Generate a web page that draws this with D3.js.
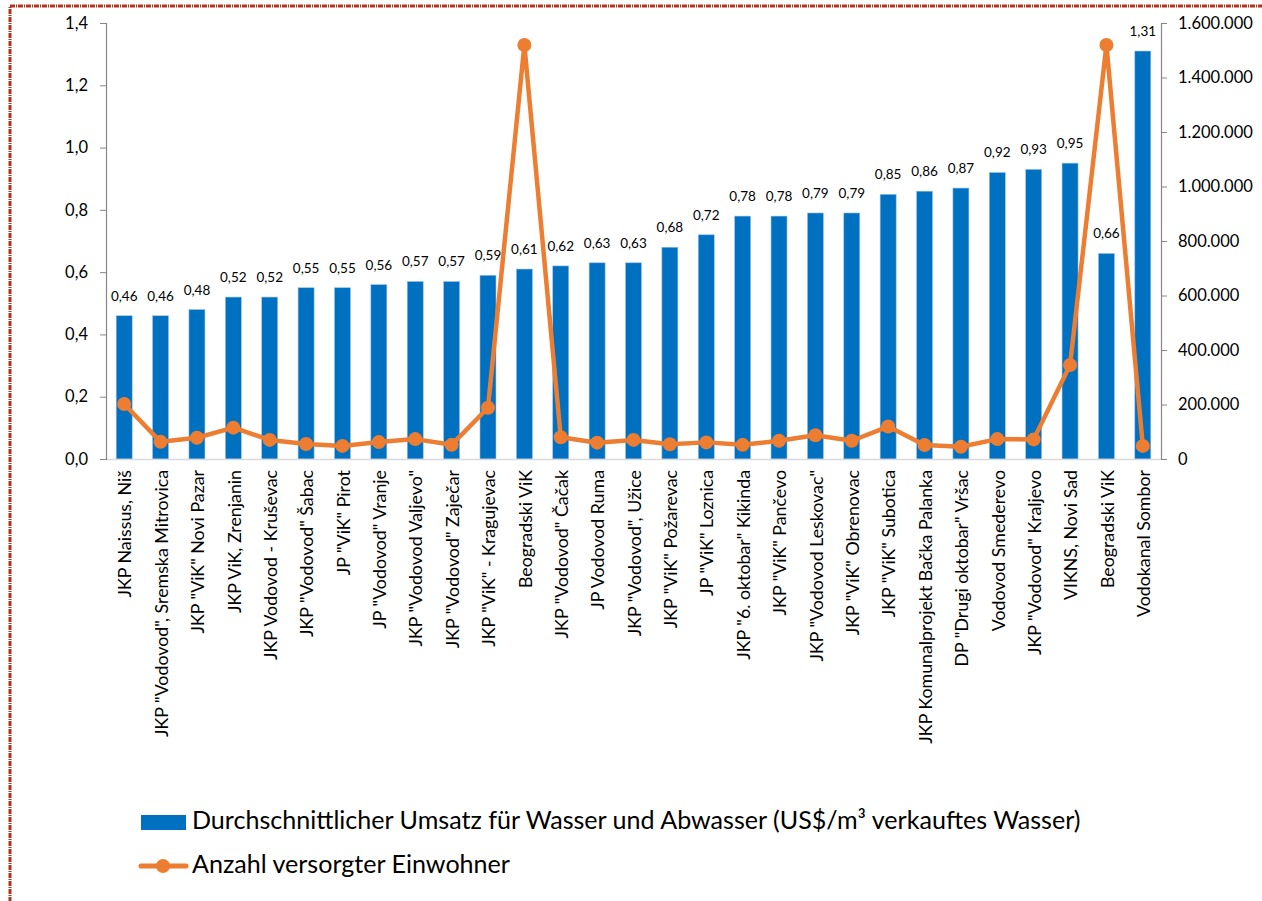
<!DOCTYPE html>
<html>
<head>
<meta charset="utf-8">
<script src="https://cdn.jsdelivr.net/npm/d3@7/dist/d3.min.js"></script>
<style>
  html, body { margin: 0; padding: 0; background: #fff; }
  svg { display: block; font-family: Lato, "Open Sans", sans-serif; }
</style>
</head>
<body>
<svg id="chart" width="1262" height="901"></svg>
<script>
const categories = [
  'JKP Naissus, Niš',
  'JKP "Vodovod", Sremska Mitrovica',
  'JKP "ViK" Novi Pazar',
  'JKP ViK, Zrenjanin',
  'JKP Vodovod - Kruševac',
  'JKP "Vodovod" Šabac',
  'JP "ViK" Pirot',
  'JP "Vodovod" Vranje',
  'JKP "Vodovod Valjevo"',
  'JKP "Vodovod" Zaječar',
  'JKP "ViK" - Kragujevac',
  'Beogradski ViK',
  'JKP "Vodovod" Čačak',
  'JP Vodovod Ruma',
  'JKP "Vodovod", Užice',
  'JKP "ViK" Požarevac',
  'JP "ViK" Loznica',
  'JKP "6. oktobar" Kikinda',
  'JKP "ViK" Pančevo',
  'JKP "Vodovod Leskovac"',
  'JKP "ViK" Obrenovac',
  'JKP "ViK" Subotica',
  'JKP Komunalprojekt Bačka Palanka',
  'DP "Drugi oktobar" Vršac',
  'Vodovod Smederevo',
  'JKP "Vodovod" Kraljevo',
  'VIKNS, Novi Sad',
  'Beogradski ViK',
  'Vodokanal Sombor'
];
const revenue = [0.46,0.46,0.48,0.52,0.52,0.55,0.55,0.56,0.57,0.57,0.59,0.61,0.62,0.63,0.63,0.68,0.72,0.78,0.78,0.79,0.79,0.85,0.86,0.87,0.92,0.93,0.95,0.66,1.31];
const population = [202000,63000,78000,115000,70000,55000,48000,62000,73000,52000,188000,1519000,80000,60000,70000,54000,61000,52000,67000,87000,67000,119000,51000,45000,73000,72000,345000,1519000,48000];
const leftTicks = [0,0.2,0.4,0.6,0.8,1.0,1.2,1.4];
const rightTicks = [0,200000,400000,600000,800000,1000000,1200000,1400000,1600000];
const seriesNames = ['Durchschnittlicher Umsatz für Wasser und Abwasser (US$/m³ verkauftes Wasser)', 'Anzahl versorgter Einwohner'];

const svg = d3.select('#chart');
const L = 106, R = 1161, T = 23, B = 459;
const blue = '#0070C0', orange = '#ED7D31';

// border
svg.append('rect').attr('x', 10).attr('y', 6).attr('width', 1400).attr('height', 1200)
  .attr('fill', 'none').attr('stroke', '#B0321F').attr('stroke-width', 3)
  .attr('stroke-dasharray', '5,1,1,1');

const x = d3.scaleBand().domain(d3.range(categories.length)).range([L, R])
  .paddingInner(0.56).paddingOuter(0.28);
const yL = d3.scaleLinear().domain([0, 1.4]).range([B, T]);
const yR = d3.scaleLinear().domain([0, 1600000]).range([B, T]);

const fmtL = d => d3.format('.1f')(d).replace('.', ',');
const fmtR = d => d3.format(',')(d).replace(/,/g, '.');

// bars
svg.append('g').selectAll('rect').data(revenue).join('rect')
  .attr('x', (d, i) => x(i)).attr('width', x.bandwidth())
  .attr('y', d => yL(d)).attr('height', d => B - yL(d))
  .attr('fill', blue).attr('stroke', '#9DC3E6').attr('stroke-width', 0.6);

// x baseline
svg.append('line').attr('x1', L).attr('x2', R).attr('y1', B + 0.5).attr('y2', B + 0.5)
  .attr('stroke', '#D9D9D9').attr('stroke-width', 1.5);

// left axis
const axL = svg.append('g').attr('transform', `translate(${L},0)`)
  .call(d3.axisLeft(yL).tickValues(leftTicks).tickFormat(fmtL).tickSize(6).tickPadding(12));
axL.select('.domain').attr('stroke', '#868686').attr('stroke-width', 1.2);
axL.selectAll('.tick line').attr('stroke', '#868686');
axL.selectAll('.tick text').attr('font-size', 16.5).attr('fill', '#000').attr('font-family', 'Lato');

// right axis
const axR = svg.append('g').attr('transform', `translate(${R},0)`)
  .call(d3.axisRight(yR).tickValues(rightTicks).tickFormat(fmtR).tickSize(6).tickPadding(11));
axR.select('.domain').attr('stroke', '#868686').attr('stroke-width', 1.2);
axR.selectAll('.tick line').attr('stroke', '#868686');
axR.selectAll('.tick text').attr('font-size', 16.5).attr('fill', '#000').attr('font-family', 'Lato');

// line
const cx = i => x(i) + x.bandwidth() / 2;
const line = d3.line().x((d, i) => cx(i)).y(d => yR(d));
svg.append('path').datum(population).attr('d', line)
  .attr('fill', 'none').attr('stroke', orange).attr('stroke-width', 4.5)
  .attr('stroke-linejoin', 'round').attr('stroke-linecap', 'round');
svg.append('g').selectAll('circle').data(population).join('circle')
  .attr('cx', (d, i) => cx(i)).attr('cy', d => yR(d)).attr('r', 7).attr('fill', orange);

// data labels
svg.append('g').selectAll('text').data(revenue).join('text')
  .attr('x', (d, i) => cx(i)).attr('y', d => yL(d) - 15)
  .attr('text-anchor', 'middle').attr('font-size', 13.5).attr('fill', '#000')
  .text(d => d3.format('.2f')(d).replace('.', ','));

// category labels
svg.append('g').selectAll('text').data(categories).join('text')
  .attr('transform', (d, i) => `translate(${cx(i) + 1},470) rotate(-90)`)
  .attr('text-anchor', 'end').attr('dy', '0.35em')
  .attr('font-size', 17.8).attr('fill', '#000')
  .text(d => d);

// legend
const lg = svg.append('g');
lg.append('rect').attr('x', 141).attr('y', 815).attr('width', 45).attr('height', 15).attr('fill', blue);
const t1 = lg.append('text').attr('x', 192).attr('y', 829).attr('font-size', 20).attr('fill', '#000').text(seriesNames[0]);
lg.append('line').attr('x1', 141).attr('x2', 186).attr('y1', 866).attr('y2', 866)
  .attr('stroke', orange).attr('stroke-width', 5).attr('stroke-linecap', 'round');
lg.append('circle').attr('cx', 163).attr('cy', 866).attr('r', 7).attr('fill', orange);
const t2 = lg.append('text').attr('x', 192).attr('y', 873).attr('font-size', 20).attr('fill', '#000').text(seriesNames[1]);
// fit legend font size to reference width
const w = t1.node().getComputedTextLength();
const fs = 20 * 889 / w;
t1.attr('font-size', fs); t2.attr('font-size', fs);
</script>
</body>
</html>
